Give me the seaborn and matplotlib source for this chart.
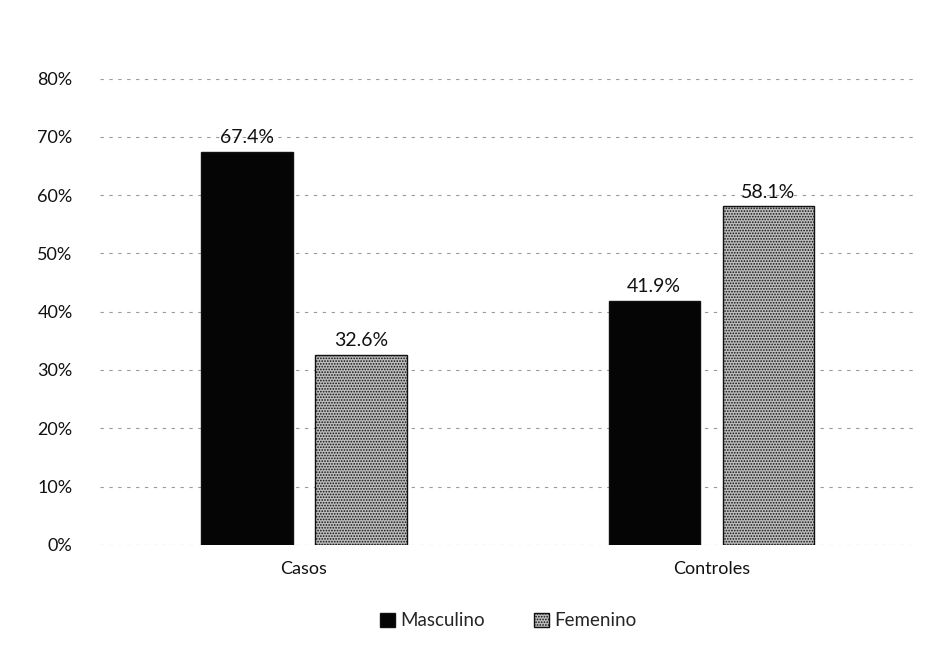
import matplotlib
matplotlib.use("Agg")
import matplotlib.pyplot as plt
import seaborn as sns
import pandas as pd
from matplotlib.patches import Patch

categories = ["Casos", "Controles"]
series = ["Masculino", "Femenino"]
masculino = [67.4, 41.9]
femenino = [32.6, 58.1]
yticks = [0, 10, 20, 30, 40, 50, 60, 70, 80]

df = pd.DataFrame({
    "grupo": categories * 2,
    "sexo": [series[0]] * 2 + [series[1]] * 2,
    "valor": masculino + femenino,
})

sns.set_theme(style="white")
plt.rcParams["font.family"] = ["Lato", "DejaVu Sans"]
plt.rcParams["hatch.color"] = "#555555"
plt.rcParams["hatch.linewidth"] = 0.8

fig = plt.figure(figsize=(9.47, 6.66), dpi=100)
ax = fig.add_axes([0.106, 0.182, 0.860, 0.700])

palette = {"Masculino": "#050505", "Femenino": "#bdbdbd"}
sns.barplot(data=df, x="grupo", y="valor", hue="sexo", order=categories,
            hue_order=series, palette=palette, width=0.56, gap=0.2,
            edgecolor="#111111", linewidth=1.0, ax=ax, legend=False,
            errorbar=None, saturation=1)

for cont, s in zip(ax.containers, series):
    for p in cont:
        if s == "Femenino":
            p.set_hatch("......")
    ax.bar_label(cont, labels=[f"{v:.1f}%" for v in cont.datavalues],
                 padding=4, fontsize=14, color="#111111")

ax.set_ylim(0, 80)
ax.set_xlim(-0.5, 1.5)
ax.set_yticks(yticks)
ax.set_yticklabels([f"{t}%" for t in yticks], fontsize=13, color="#111111")
ax.tick_params(axis="x", labelsize=13, colors="#111111", pad=6)
ax.tick_params(axis="y", pad=14)
ax.set_xlabel("")
ax.set_ylabel("")
ax.yaxis.grid(True, color="#9a9a9a", linestyle=(0, (3, 5)), linewidth=0.8)
ax.set_axisbelow(True)
for sp in ax.spines.values():
    sp.set_visible(False)

handles = [Patch(facecolor=palette["Masculino"], edgecolor="#111111"),
           Patch(facecolor=palette["Femenino"], edgecolor="#111111", hatch="......")]
fig.legend(handles, series, loc="center", bbox_to_anchor=(0.537, 0.068),
           ncol=2, frameon=False, fontsize=13.5, handlelength=0.8,
           handleheight=0.8, handletextpad=0.3, columnspacing=2.6)

fig.savefig("out.png", dpi=100, facecolor="white")
